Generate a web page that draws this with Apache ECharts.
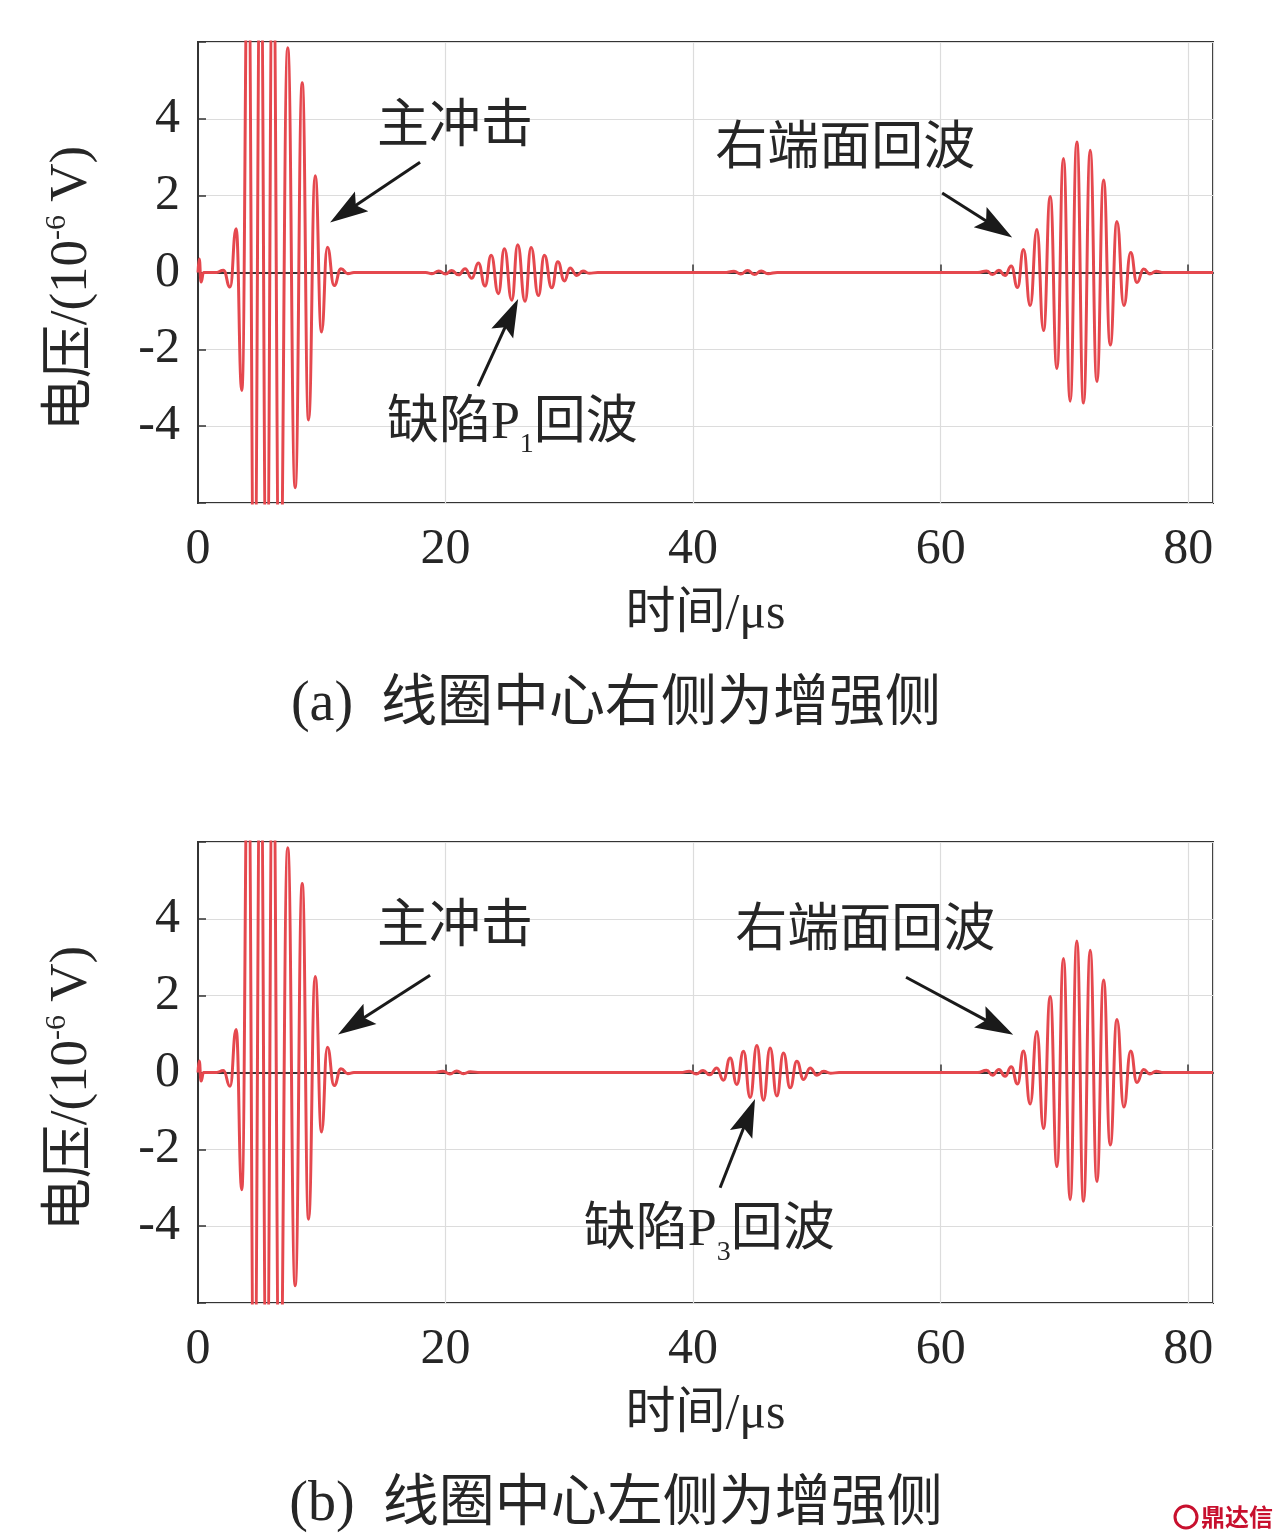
<!DOCTYPE html>
<html>
<head>
<meta charset="utf-8">
<script src="https://cdn.jsdelivr.net/npm/echarts@6/dist/echarts.min.js"></script>
<style>
html,body{margin:0;padding:0;background:#ffffff;}
#c{width:1278px;height:1540px;}
</style>
</head>
<body>
<div id="c"></div>
<script>
// ---------- Panel (a): 线圈中心右侧为增强侧 ----------
const mainBangTimeA = [0, 0.1, 0.25, 0.45, 1.5, 2.05, 2.59, 3.08, 3.54, 4.05, 4.55, 5.05, 5.55, 6.05, 6.6, 7.25, 7.85, 8.42, 8.93, 9.47, 9.98, 10.45, 11.0, 11.55, 12.1, 12.6, 13.5];
const mainBangVoltA = [0, 0.35, -0.25, 0, 0, 0.06, -0.38, 1.14, -3.07, 9.0, -9.0, 9.0, -9.0, 9.0, -9.0, 5.85, -5.6, 4.94, -3.84, 2.52, -1.55, 0.66, -0.34, 0.1, -0.03, 0, 0];
const defectTimeA = [18.4, 18.9, 19.45, 20.0, 20.5, 21.05, 21.58, 22.12, 22.65, 23.19, 23.68, 24.27, 24.75, 25.35, 25.83, 26.42, 26.91, 27.5, 27.98, 28.58, 29.07, 29.6, 30.06, 30.6, 31.1, 31.6, 32.3];
const defectVoltA = [0, -0.03, 0.04, -0.04, 0.05, -0.06, 0.1, -0.15, 0.25, -0.35, 0.45, -0.55, 0.62, -0.72, 0.72, -0.75, 0.65, -0.6, 0.45, -0.4, 0.28, -0.22, 0.12, -0.08, 0.04, -0.02, 0];
const rippleTimeA = [42.5, 43.3, 43.85, 44.4, 44.95, 45.5, 46.05, 46.8];
const rippleVoltA = [0, 0.03, -0.04, 0.05, -0.05, 0.04, -0.03, 0];
const endTimeA = [63.0, 63.7, 64.2, 64.7, 65.2, 65.7, 66.21, 66.69, 67.23, 67.77, 68.31, 68.85, 69.39, 69.92, 70.46, 71.0, 71.54, 72.08, 72.62, 73.16, 73.7, 74.24, 74.8, 75.35, 75.85, 76.4, 76.9, 77.4, 78.0, 82.0];
const endVoltA = [0, 0.04, -0.05, 0.06, -0.08, 0.17, -0.39, 0.6, -0.86, 1.12, -1.51, 1.98, -2.5, 2.97, -3.35, 3.4, -3.4, 3.18, -2.84, 2.41, -1.89, 1.33, -0.86, 0.52, -0.26, 0.09, -0.04, 0.03, 0, 0];

// ---------- Panel (b): 线圈中心左侧为增强侧 ----------
const mainBangTimeB = [0, 0.1, 0.25, 0.45, 1.5, 2.05, 2.59, 3.08, 3.54, 4.05, 4.55, 5.05, 5.55, 6.05, 6.6, 7.25, 7.85, 8.42, 8.93, 9.47, 9.98, 10.45, 11.0, 11.55, 12.1, 12.6, 13.5];
const mainBangVoltB = [0, 0.3, -0.22, 0, 0, 0.05, -0.36, 1.12, -3.05, 9.0, -9.0, 9.0, -9.0, 9.0, -9.0, 5.85, -5.55, 4.92, -3.82, 2.5, -1.55, 0.66, -0.34, 0.1, -0.03, 0, 0];
const rippleTimeB = [19.0, 19.8, 20.35, 20.9, 21.45, 22.0, 22.8];
const rippleVoltB = [0, 0.03, -0.04, 0.04, -0.03, 0.02, 0];
const defectTimeB = [39.0, 39.7, 40.25, 40.8, 41.35, 41.91, 42.45, 42.99, 43.53, 44.07, 44.61, 45.15, 45.68, 46.22, 46.76, 47.3, 47.84, 48.38, 48.92, 49.45, 50.0, 50.55, 51.1, 51.8];
const defectVoltB = [0, 0.03, -0.04, 0.05, -0.06, 0.12, -0.2, 0.38, -0.31, 0.55, -0.65, 0.7, -0.72, 0.64, -0.61, 0.51, -0.4, 0.29, -0.18, 0.12, -0.07, 0.03, -0.02, 0];
const endTimeB = [63.0, 63.7, 64.2, 64.7, 65.2, 65.7, 66.21, 66.69, 67.23, 67.77, 68.31, 68.85, 69.39, 69.92, 70.46, 71.0, 71.54, 72.08, 72.62, 73.16, 73.7, 74.24, 74.8, 75.35, 75.85, 76.4, 76.9, 77.4, 78.0, 82.0];
const endVoltB = [0, 0.06, -0.07, 0.08, -0.1, 0.15, -0.3, 0.56, -0.82, 1.07, -1.46, 1.98, -2.45, 2.97, -3.31, 3.42, -3.35, 3.18, -2.84, 2.41, -1.89, 1.38, -0.9, 0.56, -0.26, 0.08, -0.04, 0.03, 0, 0];

// ---------- Axes ----------
const xTicks = [0, 20, 40, 60, 80];
const yTicks = [-4, -2, 0, 2, 4];
const xName = '时间/μs';
const captions = ['(a)  线圈中心右侧为增强侧', '(b)  线圈中心左侧为增强侧'];

// ---------- Annotations (data coordinates) ----------
const labelsA = [
  { text: '主冲击', at: [20.77, 3.75] },
  { text: '缺陷P', sub: '1', tail: '回波', at: [25.4, -3.94] },
  { text: '右端面回波', at: [52.3, 3.18] }
];
const arrowsA = [
  { from: [17.94, 2.87], to: [10.67, 1.3] },
  { from: [22.63, -2.96], to: [25.86, -0.69] },
  { from: [60.12, 2.07], to: [65.78, 0.91] }
];
const labelsB = [
  { text: '主冲击', at: [20.77, 3.75] },
  { text: '缺陷P', sub: '3', tail: '回波', at: [41.3, -4.13] },
  { text: '右端面回波', at: [53.9, 3.65] }
];
const arrowsB = [
  { from: [18.75, 2.53], to: [11.31, 0.99] },
  { from: [42.18, -3.0], to: [45.0, -0.69] },
  { from: [57.2, 2.48], to: [65.86, 0.98] }
];

const FONT = "'Liberation Serif','Noto Sans CJK SC',serif";
const TXT = '#262626';
const AX = '#333333';
const RED = '#e5484e';

function pts(ts, vs) { return ts.map((t, i) => [t, vs[i]]); }
const dataA = [].concat(pts(mainBangTimeA, mainBangVoltA), pts(defectTimeA, defectVoltA), pts(rippleTimeA, rippleVoltA), pts(endTimeA, endVoltA));
const dataB = [].concat(pts(mainBangTimeB, mainBangVoltB), pts(rippleTimeB, rippleVoltB), pts(defectTimeB, defectVoltB), pts(endTimeB, endVoltB));

const grids = [
  { left: 198, top: 42, width: 1015, height: 461 },
  { left: 198, top: 842, width: 1015, height: 461 }
];

function xAxisFor(i) {
  return {
    gridIndex: i, type: 'value', min: 0, max: 82, interval: 20,
    axisLine: { show: true, lineStyle: { color: AX, width: 2 } },
    axisTick: { show: true, inside: true, length: 8, lineStyle: { color: AX, width: 1.5 } },
    splitLine: { show: true, lineStyle: { color: '#dcdcdc', width: 1.2 } },
    axisLabel: {
      margin: 22, fontSize: 50, fontFamily: FONT, color: TXT, showMaxLabel: false,
      formatter: v => (xTicks.indexOf(v) >= 0 ? String(v) : '')
    },
    name: xName, nameLocation: 'middle', nameGap: 87,
    nameTextStyle: { fontSize: 50, fontFamily: FONT, color: TXT }
  };
}
function yAxisFor(i) {
  return {
    gridIndex: i, type: 'value', min: -6, max: 6, interval: 2,
    axisLine: { show: true, lineStyle: { color: AX, width: 2 } },
    axisTick: { show: true, inside: true, length: 8, lineStyle: { color: AX, width: 1.5 } },
    splitLine: { show: true, lineStyle: { color: '#dcdcdc', width: 1.2 } },
    axisLabel: {
      margin: 18, fontSize: 50, fontFamily: FONT, color: TXT,
      formatter: v => (yTicks.indexOf(v) >= 0 ? String(v) : '')
    }
  };
}
function seriesFor(i, data) {
  return {
    type: 'line', xAxisIndex: i, yAxisIndex: i, data: data,
    showSymbol: false, symbol: 'none', smooth: 0.5, smoothMonotone: 'x',
    sampling: null, clip: true, animation: false, silent: true,
    lineStyle: { color: RED, width: 3 }
  };
}

const chart = echarts.init(document.getElementById('c'), null, { renderer: 'canvas' });
chart.setOption({
  backgroundColor: '#ffffff',
  animation: false,
  grid: grids.map(g => Object.assign({ show: true, borderColor: AX, borderWidth: 2, backgroundColor: 'transparent' }, g)),
  xAxis: [xAxisFor(0), xAxisFor(1)],
  yAxis: [yAxisFor(0), yAxisFor(1)],
  series: [seriesFor(0, dataA), seriesFor(1, dataB)]
});

// ---------- annotation graphics, placed through the axes' scales ----------
function arrowEls(gi, a) {
  const s = chart.convertToPixel({ gridIndex: gi }, a.from);
  const t = chart.convertToPixel({ gridIndex: gi }, a.to);
  const dx = t[0] - s[0], dy = t[1] - s[1];
  const len = Math.sqrt(dx * dx + dy * dy);
  const ux = dx / len, uy = dy / len, nx = -uy, ny = ux;
  const L = 38, W = 12, N = 7;
  const bx = t[0] - ux * L, by = t[1] - uy * L;
  return [
    { type: 'line', silent: true, z: 50,
      shape: { x1: s[0], y1: s[1], x2: t[0] - ux * (L - 10), y2: t[1] - uy * (L - 10) },
      style: { stroke: '#1a1a1a', lineWidth: 3 } },
    { type: 'polygon', silent: true, z: 51,
      shape: { points: [[t[0], t[1]], [bx + nx * W, by + ny * W], [t[0] - ux * (L - N), t[1] - uy * (L - N)], [bx - nx * W, by - ny * W]] },
      style: { fill: '#1a1a1a' } }
  ];
}
function labelEl(gi, l) {
  const p = chart.convertToPixel({ gridIndex: gi }, l.at);
  const rich = {
    a: { fontSize: 52, fontFamily: FONT, fill: TXT, lineHeight: 70, verticalAlign: 'middle' },
    s: { fontSize: 28, fontFamily: FONT, fill: TXT, lineHeight: 10, verticalAlign: 'bottom' }
  };
  const text = l.sub ? '{a|' + l.text + '}{s|' + l.sub + '}{a|' + l.tail + '}' : '{a|' + l.text + '}';
  return { type: 'text', silent: true, z: 60, x: p[0], y: p[1],
    style: { text: text, rich: rich, align: 'center', verticalAlign: 'middle', textAlign: 'center', textVerticalAlign: 'middle' } };
}
function yNameEl(gi) {
  const g = grids[gi];
  return { type: 'text', silent: true, z: 60, x: g.left - 126, y: g.top + g.height / 2 + 16, rotation: Math.PI / 2,
    style: {
      text: '{a|电压/(10}{s|-6}{a| V)}',
      rich: {
        a: { fontSize: 53, fontFamily: FONT, fill: TXT, lineHeight: 60, verticalAlign: 'middle' },
        s: { fontSize: 30, fontFamily: FONT, fill: TXT, lineHeight: 32, verticalAlign: 'top' }
      },
      align: 'center', verticalAlign: 'middle', textAlign: 'center', textVerticalAlign: 'middle'
    } };
}
function captionEl(gi) {
  const g = grids[gi];
  return { type: 'text', silent: true, z: 60, x: 616, y: g.top + g.height + 202,
    style: { text: captions[gi], fontSize: 56, fontFamily: FONT, fill: TXT,
      align: 'center', verticalAlign: 'middle', textAlign: 'center', textVerticalAlign: 'middle' } };
}

let els = [];
arrowsA.forEach(a => { els = els.concat(arrowEls(0, a)); });
arrowsB.forEach(a => { els = els.concat(arrowEls(1, a)); });
labelsA.forEach(l => els.push(labelEl(0, l)));
labelsB.forEach(l => els.push(labelEl(1, l)));
els.push(yNameEl(0), yNameEl(1), captionEl(0), captionEl(1));
// watermark
els.push({ type: 'circle', silent: true, shape: { cx: 1186, cy: 1517, r: 11 }, style: { fill: 'none', stroke: '#c8102e', lineWidth: 3 } });
els.push({ type: 'text', silent: true, x: 1201, y: 1517,
  style: { text: '鼎达信', fontSize: 24, fontFamily: "'Noto Sans CJK SC',sans-serif", fontWeight: 'bold', fill: '#c8102e',
    align: 'left', verticalAlign: 'middle', textAlign: 'left', textVerticalAlign: 'middle' } });

chart.setOption({ graphic: { elements: els } });
</script>
</body>
</html>
